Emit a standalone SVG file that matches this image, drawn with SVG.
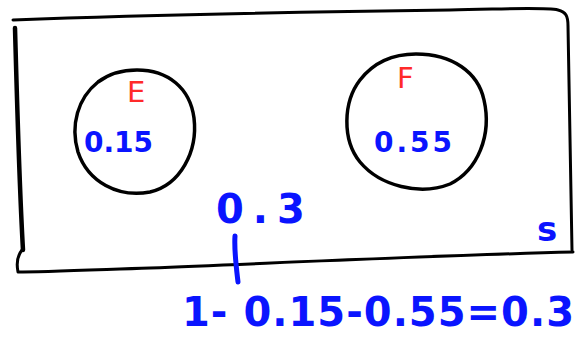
<svg xmlns="http://www.w3.org/2000/svg" width="576" height="340" viewBox="0 0 576 340">
<style>
.ink{fill:none;stroke:#000;stroke-linecap:round;stroke-linejoin:round}
.blue{fill:#0a14ff;font-family:"DejaVu Sans",sans-serif;font-weight:bold}
.red{fill:#ff2a2a;font-family:"DejaVu Sans",sans-serif}
.conn{fill:none;stroke:#0a14ff;stroke-width:5;stroke-linecap:round}
</style>
<rect width="576" height="340" fill="#fff"/>
<g id="S">
<path class="ink" stroke-width="3" d="M13,20 C120,16 300,12 450,10 C510,9 545,7 558,10 C566,12 568,16 568,26 L572,250"/>
<path class="ink" stroke-width="3" d="M573,252 C450,255 300,262 150,268 C90,270 40,272 18,272 C16,262 18,255 22,250"/>
<path class="ink" stroke-width="4.5" d="M15,28 C17,100 19,180 23,250"/>
<text class="blue" x="537" y="241" font-size="34">s</text>
</g>
<g id="E">
<path class="ink" stroke-width="3.5" d="M137,70 C168,70 190,88 194,118 C198,152 180,185 150,192 C118,198 88,182 78,152 C70,125 78,98 98,82 C110,73 122,70 137,70 Z"/>
<text class="red" x="127" y="102" font-size="29">E</text>
<text class="blue" x="84" y="152" font-size="28">0.15</text>
</g>
<g id="F">
<path class="ink" stroke-width="3.5" d="M416,54 C452,54 478,72 484,100 C492,135 478,170 450,184 C420,196 380,186 360,162 C342,140 343,102 360,80 C374,62 394,54 416,54 Z"/>
<text class="red" x="397" y="88" font-size="29">F</text>
<text class="blue" x="374" y="152" font-size="28" letter-spacing="3">0.55</text>
</g>
<g id="complement">
<text class="blue" x="216" y="223" font-size="40" letter-spacing="9">0.3</text>
<text class="blue" x="182" y="326" font-size="40" textLength="392" lengthAdjust="spacing">1- 0.15-0.55=0.3</text>
</g>
<g id="connectors">
<path class="conn" d="M235,236 C234,250 236,265 238,282"/>
</g>
</svg>
